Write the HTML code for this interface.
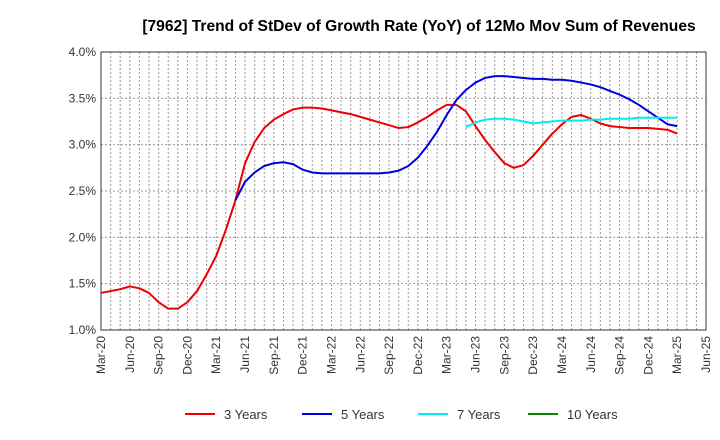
<!DOCTYPE html>
<html><head><meta charset="utf-8"><style>
body{margin:0;background:#fff;font-family:"Liberation Sans",Arial,sans-serif}
svg{display:block}
</style></head><body>
<svg id="chart" width="720" height="440">
<text x="419" y="31" text-anchor="middle" font-size="15.6" font-weight="bold" fill="#000">[7962]  Trend of StDev of Growth Rate (YoY) of 12Mo Mov Sum of Revenues</text>
<g id="grid"></g><g id="axes"></g><g id="series"></g><g id="legend"></g>
</svg>
<script>
const xTickLabels=["Mar-20","Jun-20","Sep-20","Dec-20","Mar-21","Jun-21","Sep-21","Dec-21","Mar-22","Jun-22","Sep-22","Dec-22","Mar-23","Jun-23","Sep-23","Dec-23","Mar-24","Jun-24","Sep-24","Dec-24","Mar-25","Jun-25"];
const yTicks=[1.0,1.5,2.0,2.5,3.0,3.5,4.0];
const seriesNames=["3 Years","5 Years","7 Years","10 Years"];
const seriesColors=["#ee0000","#0000dd","#00eeee","#008800"];
// monthly values starting Mar-20 (index 0)
const red=[1.40,1.42,1.44,1.47,1.45,1.40,1.30,1.23,1.23,1.30,1.42,1.60,1.80,2.08,2.40,2.80,3.03,3.18,3.27,3.33,3.38,3.40,3.40,3.39,3.37,3.35,3.33,3.30,3.27,3.24,3.21,3.18,3.19,3.24,3.30,3.37,3.43,3.43,3.36,3.20,3.05,2.92,2.80,2.75,2.78,2.88,3.00,3.12,3.22,3.30,3.32,3.28,3.23,3.20,3.19,3.18,3.18,3.18,3.17,3.16,3.12];
const blueStart=14;
const blue=[2.40,2.60,2.70,2.77,2.80,2.81,2.79,2.73,2.70,2.69,2.69,2.69,2.69,2.69,2.69,2.69,2.70,2.72,2.77,2.86,2.99,3.14,3.32,3.48,3.59,3.67,3.72,3.74,3.74,3.73,3.72,3.71,3.71,3.70,3.70,3.69,3.67,3.65,3.62,3.58,3.54,3.49,3.43,3.36,3.29,3.22,3.20];
const cyanStart=38;
const cyan=[3.19,3.24,3.27,3.28,3.28,3.27,3.25,3.23,3.24,3.25,3.26,3.26,3.26,3.27,3.27,3.28,3.28,3.28,3.29,3.29,3.29,3.29,3.29];
const green=[];

const L=101,R=706,T=52,B=330,NS="http://www.w3.org/2000/svg";
const nMonths=63;
const xs=i=>L+(R-L)*i/nMonths;
const ys=v=>B-(v-1.0)/(4.0-1.0)*(B-T);
function mk(tag,attrs,parent){const e=document.createElementNS(NS,tag);for(const k in attrs)e.setAttribute(k,attrs[k]);parent.appendChild(e);return e;}
const grid=document.getElementById('grid'),axes=document.getElementById('axes'),ser=document.getElementById('series'),leg=document.getElementById('legend');
for(let i=1;i<nMonths;i++){const l=mk('line',{x1:xs(i),x2:xs(i),y1:T,y2:B,stroke:'#999','stroke-dasharray':'2,2','stroke-width':1},grid);

}
yTicks.forEach(v=>{const l=mk('line',{x1:L,x2:R,y1:ys(v),y2:ys(v),stroke:'#999','stroke-dasharray':'2,2','stroke-width':1},grid);


const t=mk('text',{x:L-5,y:ys(v)+4,'text-anchor':'end','font-size':12,fill:'#333'},axes);t.textContent=v.toFixed(1)+'%';

});
const fr=mk('rect',{x:L,y:T,width:R-L,height:B-T,fill:'none',stroke:'#333','stroke-width':1},axes);


xTickLabels.forEach((s,i)=>{const x=xs(i*3);const t=mk('text',{transform:`translate(${x+4},${B+6}) rotate(-90)`,'text-anchor':'end','font-size':12,fill:'#333'},axes);t.textContent=s;

});
function line(arr,start,color,name){if(!arr.length)return;const p=mk('polyline',{points:arr.map((v,i)=>xs(start+i)+','+ys(v)).join(' '),fill:'none',stroke:color,'stroke-width':2,'stroke-linejoin':'round'},ser);

}
line(red,0,seriesColors[0],'series-3-years');
line(blue,blueStart,seriesColors[1],'series-5-years');
line(cyan,cyanStart,seriesColors[2],'series-7-years');
line(green,0,seriesColors[3],'series-10-years');
const lx=[185,302,418,528];
seriesNames.forEach((n,i)=>{const g=mk('g',{},leg);


mk('line',{x1:lx[i],x2:lx[i]+30,y1:414,y2:414,stroke:seriesColors[i],'stroke-width':2},g);
const t=mk('text',{x:lx[i]+39,y:419,'font-size':13,fill:'#333'},g);t.textContent=n;});
</script>
</body></html>
